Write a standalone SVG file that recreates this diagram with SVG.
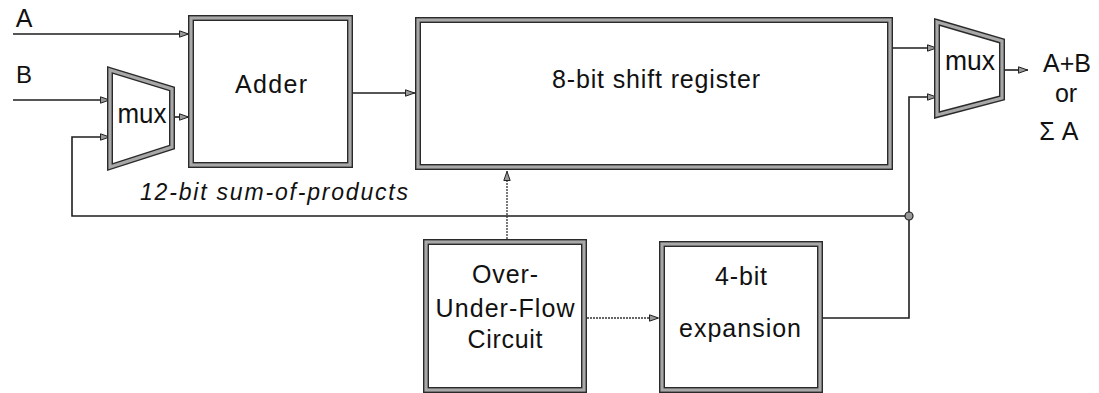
<svg xmlns="http://www.w3.org/2000/svg" width="1099" height="393" viewBox="0 0 1099 393">
<style>
.bo{fill:none;stroke:#2a2a2a;stroke-width:6;stroke-linejoin:miter}
.bi{fill:none;stroke:#a8a8a8;stroke-width:3.2;stroke-linejoin:miter}
.w{fill:#fff}
.ln{fill:none;stroke:#1e1e1e;stroke-width:1.6}
.dl{fill:none;stroke:#333;stroke-width:1.3;stroke-dasharray:2 1}
.t{font-family:"Liberation Sans",Arial,Helvetica,sans-serif;fill:#111;text-anchor:middle}
.it{font-style:italic}
</style>
<defs>
<marker id="ar" viewBox="0 0 10 8" refX="10" refY="4" markerWidth="10" markerHeight="8" markerUnits="userSpaceOnUse" orient="auto">
<path d="M0.5,0.8 L9.5,4 L0.5,7.2 Z" fill="#9a9a9a" stroke="#222" stroke-width="1"/>
</marker>
</defs>
<rect width="1099" height="393" fill="#fff"/>

<g id="connectors">
<path class="ln" d="M13,34 H189" marker-end="url(#ar)"/>
<path class="ln" d="M13,100 H110" marker-end="url(#ar)"/>
<path class="ln" d="M909,216 H72 V137 H110" marker-end="url(#ar)"/>
<path class="ln" d="M172,117 H189" marker-end="url(#ar)"/>
<path class="ln" d="M353,93 H415" marker-end="url(#ar)"/>
<path class="ln" d="M893,48 H937" marker-end="url(#ar)"/>
<path class="ln" d="M823,318 H909 V97 H937" marker-end="url(#ar)"/>
<path class="ln" d="M1002,70 H1028" marker-end="url(#ar)"/>
<path class="dl" d="M507,239 V171" marker-end="url(#ar)"/>
<path class="dl" d="M587,318 H659" marker-end="url(#ar)"/>
<circle cx="909" cy="216" r="4" fill="#9a9a9a" stroke="#222" stroke-width="1.2"/>
</g>

<g id="mux1">
<polygon class="w" points="110,70 172,89 172,147 110,167"/>
<polygon class="bo" points="110,70 172,89 172,147 110,167"/>
<polygon class="bi" points="110,70 172,89 172,147 110,167"/>
<text class="t" x="142" y="123" font-size="28" textLength="49" lengthAdjust="spacingAndGlyphs">mux</text>
</g>

<g id="adder">
<rect class="w" x="191" y="18" width="159" height="147"/>
<rect class="bo" x="191" y="18" width="159" height="147"/>
<rect class="bi" x="191" y="18" width="159" height="147"/>
<text class="t" x="271" y="93" font-size="25" textLength="72" lengthAdjust="spacing">Adder</text>
</g>

<g id="shiftreg">
<rect class="w" x="418" y="20" width="472" height="147"/>
<rect class="bo" x="418" y="20" width="472" height="147"/>
<rect class="bi" x="418" y="20" width="472" height="147"/>
<text class="t" x="656" y="88" font-size="25" textLength="208" lengthAdjust="spacing">8-bit shift register</text>
</g>

<g id="mux2">
<polygon class="w" points="937,22 1002,41 1002,98 937,115"/>
<polygon class="bo" points="937,22 1002,41 1002,98 937,115"/>
<polygon class="bi" points="937,22 1002,41 1002,98 937,115"/>
<text class="t" x="970" y="70" font-size="28" textLength="50" lengthAdjust="spacingAndGlyphs">mux</text>
</g>

<g id="overflow">
<rect class="w" x="426" y="242" width="158" height="148"/>
<rect class="bo" x="426" y="242" width="158" height="148"/>
<rect class="bi" x="426" y="242" width="158" height="148"/>
<text class="t" x="505" y="283" font-size="25" textLength="66" lengthAdjust="spacing">Over-</text>
<text class="t" x="505" y="317" font-size="25" textLength="139" lengthAdjust="spacing">Under-Flow</text>
<text class="t" x="505" y="348" font-size="25" textLength="75" lengthAdjust="spacing">Circuit</text>
</g>

<g id="expansion">
<rect class="w" x="662" y="244" width="158" height="146"/>
<rect class="bo" x="662" y="244" width="158" height="146"/>
<rect class="bi" x="662" y="244" width="158" height="146"/>
<text class="t" x="741" y="285" font-size="25" textLength="52" lengthAdjust="spacing">4-bit</text>
<text class="t" x="740" y="337" font-size="25" textLength="122" lengthAdjust="spacing">expansion</text>
</g>

<g id="labels">
<text class="t" x="24" y="27" font-size="25">A</text>
<text class="t" x="24" y="83" font-size="24">B</text>
<text class="t it" x="274" y="200" font-size="23" textLength="268" lengthAdjust="spacing">12-bit sum-of-products</text>
<text class="t" x="1067" y="72" font-size="25">A+B</text>
<text class="t" x="1066" y="102" font-size="25">or</text>
<text class="t" x="1059" y="140" font-size="25"><tspan x="1047">Σ</tspan><tspan x="1070">A</tspan></text>
</g>
</svg>
